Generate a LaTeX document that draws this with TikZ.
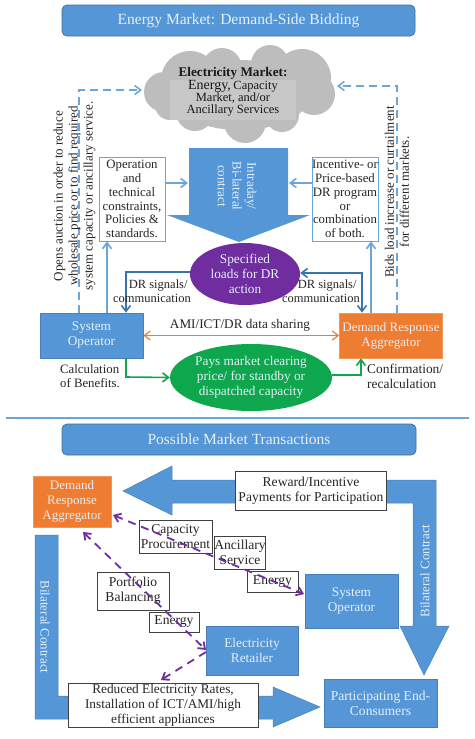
\documentclass[tikz,border=0pt]{standalone}
\usepackage{fontspec}
\setmainfont{Liberation Serif}
\usetikzlibrary{arrows.meta,positioning,shapes.geometric}
\definecolor{mblue}{HTML}{5597D6}
\definecolor{mblueline}{HTML}{41719C}
\definecolor{lblue}{HTML}{6AA5DC}
\definecolor{dblue}{HTML}{3A74AE}
\definecolor{morange}{HTML}{EE7D31}
\definecolor{mgreen}{HTML}{0EA74E}
\definecolor{mpurple}{HTML}{6F2D9F}
\definecolor{cloudg}{HTML}{BDBDBD}
\definecolor{txtw}{HTML}{E4EFF9}
\definecolor{txtd}{HTML}{262626}
\tikzset{
  x=1pt,y=-1pt,
  title/.style={draw=mblueline,line width=.8pt,fill=mblue,rounded corners=5pt,text=txtw,font=\fontsize{15.5}{18}\selectfont,inner sep=0pt},
  solid box/.style={fill=mblue,draw=mblue!85!black,line width=.6pt,text=txtw,font=\fontsize{13.3}{15}\selectfont,align=center,inner sep=0pt},
  orange box/.style={fill=morange,draw=morange!80!white,line width=.6pt,text=txtw,font=\fontsize{13}{15}\selectfont,align=center,inner sep=0pt},
  info/.style={fill=white,draw=lblue,line width=.9pt,text=txtd,font=\fontsize{12.8}{13.7}\selectfont,align=center,inner sep=0pt},
  tag/.style={fill=white,draw=black!75,line width=.8pt,text=txtd,font=\fontsize{13.6}{15}\selectfont,align=center,inner sep=0pt},
  plain/.style={text=txtd,font=\fontsize{12.8}{14.5}\selectfont,align=center,inner sep=0pt},
  vert/.style={text=txtd,font=\fontsize{13}{15}\selectfont,align=center,inner sep=0pt,rotate=90},
  arr/.style={-{Straight Barb[length=6pt,width=9pt]},line width=1.6pt},
  darr/.style={{Straight Barb[length=6pt,width=9pt]}-{Straight Barb[length=6pt,width=9pt]},line width=1.6pt},
  dash blue/.style={arr,draw=lblue,dash pattern=on 8pt off 5pt},
  dash purple/.style={draw=mpurple,line width=1.8pt,dash pattern=on 8pt off 6pt},
  bigarrow/.style={fill=mblue,draw=mblue!85!black,line width=.5pt},
}
\begin{document}
\begin{tikzpicture}
\useasboundingbox (0,0) rectangle (474,739);
\fill[white] (0,0) rectangle (474,739);
% titles
\node[title,minimum width=353pt,minimum height=31pt] (t1) at (238.5,20.5) {Energy Market: Demand-Side Bidding};
\node[title,minimum width=354pt,minimum height=31pt] (t2) at (239,439.5) {Possible Market Transactions};
% cloud
\fill[cloudg] (164,92) circle (20) (170,105) circle (15) (190,80) circle (29) (195,112) circle (19)
  (222,68) circle (20) (270,64) circle (19) (245,122) circle (21) (282,115) circle (17)
  (302,78) circle (29) (314,94) circle (21) (240,95) ellipse [x radius=70,y radius=35];
\fill[black!22] (170,80) rectangle (296,120);
\node[inner sep=0pt,align=center,text=black!90] (cloud) at (233,91.5) {{\fontsize{13.2}{15}\selectfont\bfseries Electricity Market:}\\[0pt]{\fontsize{14}{15}\selectfont Energy,} {\fontsize{12.5}{14}\selectfont Capacity}\\[0pt]{\fontsize{12.5}{14}\selectfont Market, and/or}\\[0pt]{\fontsize{12.5}{14}\selectfont Ancillary Services}};
\coordinate (cloudL) at (142,90);
\coordinate (cloudR) at (337,86);
% big down arrow
\fill[mblue] (189,148) -- (288,148) -- (288,215) -- (310,215) -- (239,242) -- (167,215) -- (189,215) -- cycle;
\coordinate (bigL) at (188,183);
\coordinate (bigR) at (289,183);
\node[rotate=-90,text=txtw,align=center,inner sep=0pt,font=\fontsize{13}{14.8}\selectfont] (contract) at (237,186) {Intraday/\\Bi-lateral\\contract};
% info boxes
\node[info,minimum width=66pt,minimum height=84pt] (ops) at (132,199) {Operation\\and\\technical\\constraints,\\Policies \&\\standards.};
\node[info,minimum width=66pt,minimum height=84pt] (inc) at (345,199) {Incentive- or\\Price-based\\DR program\\or\\combination\\of both.};
% main nodes
\node[solid box,minimum width=103pt,minimum height=45pt] (so) at (91.5,335.5) {System\\Operator};
\node[orange box,minimum width=103pt,minimum height=45pt] (dra) at (391,335.5) {Demand Response\\Aggregator};
\node[ellipse,fill=mpurple,minimum width=110pt,minimum height=62pt,inner sep=0pt,text=txtw,align=center,font=\fontsize{13.3}{15}\selectfont] (loads) at (245,274) {Specified\\loads for DR\\action};
\node[ellipse,fill=mgreen,minimum width=162pt,minimum height=67pt,inner sep=0pt,text=txtw,align=center,font=\fontsize{13.3}{15}\selectfont] (pays) at (251,377.5) {Pays market clearing\\price/ for standby or\\dispatched capacity};
% connectors, upper part
\draw[arr,draw=lblue] (ops.east |- bigL) -- (bigL);
\draw[arr,draw=lblue] (inc.west |- bigR) -- (bigR);
\draw[arr,draw=lblue] (so.north -| 107,0) -- (ops.south -| 107,0);
\draw[arr,draw=lblue] (dra.north -| 371,0) -- (inc.south -| 371,0);
\draw[dash blue] (so.north -| 79,0) -- (79,90) -- (cloudL);
\draw[dash blue] (dra.north -| 397,0) -- (397,86) -- (cloudR);
\draw[arr,draw=dblue] (loads.west |- 0,272) -- (126,272) -- (so.north -| 126,0);
\draw[darr,draw=dblue] (loads.east |- 0,273) -- (362,273) -- (dra.north -| 362,0);
\draw[darr,draw=morange,line width=1.2pt] (so.east) -- (dra.west);
\draw[arr,draw=mgreen] (so.south -| 126,0) -- (126,377) -- (pays.west);
\draw[arr,draw=mgreen] (pays.east |- 0,375) -- (361,375) -- (dra.south -| 361,0);
% upper labels
\node[vert] (v1) at (74.5,196) {Opens auction in order to reduce\\wholesale price or to find required\\system capacity or ancillary service.};
\node[vert] (v2) at (397,192) {Bids load increase or curtailment\\for different markets.};
\node[plain,font=\fontsize{12.5}{14}\selectfont] (drl) at (152,291) {\phantom{xx}DR signals/\\communication};
\node[plain,font=\fontsize{12.5}{14}\selectfont] (drr) at (321,291.5) {\phantom{xx}DR signals/\\communication};
\node[plain,font=\fontsize{13.2}{15}\selectfont] (ami) at (240,325) {AMI/ICT/DR data sharing};
\node[plain,align=left] (calc) at (90,376) {Calculation\\of Benefits.};
\node[plain,align=left,anchor=west,font=\fontsize{13.4}{15}\selectfont] (conf) at (367,376.5) {Confirmation/\\recalculation};
% separator
\coordinate (sepL) at (6,418);
\coordinate (sepR) at (469,418);
\draw[draw=lblue,line width=1.3pt] (sepL) -- (sepR);
% lower big arrows
\filldraw[bigarrow] (123,491) -- (172,466) -- (172,480) -- (436,480) -- (436,626) -- (449,626) -- (424,675) -- (400,626) -- (413,626) -- (413,503) -- (172,503) -- (172,515) -- cycle;
\filldraw[bigarrow] (35,535) -- (58,535) -- (58,696) -- (273,696) -- (273,687) -- (320,707) -- (273,727) -- (273,719) -- (35,719) -- cycle;
\node[rotate=90,text=txtw,inner sep=0pt,font=\fontsize{13}{15}\selectfont] (bc1) at (425,571) {Bilateral Contract};
\node[rotate=-90,text=txtw,inner sep=0pt,font=\fontsize{13}{15}\selectfont] (bc2) at (45,627) {Bilateral Contract};
% lower nodes
\node[orange box,minimum width=78pt,minimum height=51pt] (dra2) at (72,501.5) {Demand\\Response\\Aggregator};
\node[solid box,minimum width=93pt,minimum height=54pt] (so2) at (351.5,601) {System\\Operator};
\node[solid box,minimum width=92pt,minimum height=49pt] (ret) at (252,650.5) {Electricity\\Retailer};
\node[solid box,minimum width=113pt,minimum height=48pt,font=\fontsize{13.6}{15}\selectfont] (pec) at (380.5,703) {Participating End-\\Consumers};
% tags
\node[tag,minimum width=151pt,minimum height=39pt] (rew) at (311,490.5) {Reward/Incentive\\Payments for Participation};
\node[tag,minimum width=190pt,minimum height=44pt,font=\fontsize{13.3}{15}\selectfont] (red) at (163,705) {Reduced Electricity Rates,\\Installation of ICT/AMI/high\\efficient appliances};
\node[tag,minimum width=73pt,minimum height=33pt] (cap) at (175.5,536.5) {Capacity\\Procurement};
\node[tag,minimum width=50pt,minimum height=33pt] (anc) at (240,552.5) {Ancillary\\Service};
\node[tag,minimum width=51pt,minimum height=21pt] (en1) at (272.5,581.5) {Energy};
\node[tag,minimum width=72pt,minimum height=38pt] (port) at (133,591) {Portfolio\\Balancing};
\node[tag,minimum width=50pt,minimum height=20pt] (en2) at (174,622) {Energy};
% purple connectors
\coordinate (pA) at (113,515);
\coordinate (pB) at (304,594);
\coordinate (pC) at (83,532);
\coordinate (pD) at (206,650);
\coordinate (pE) at (161,680);
\coordinate (pF) at (206,652);
\draw[darr,dash purple] (pA) -- (pB);
\draw[darr,dash purple] (pC) -- (pD);
\draw[arr,dash purple] (pF) -- (pE);
\end{tikzpicture}
\end{document}
